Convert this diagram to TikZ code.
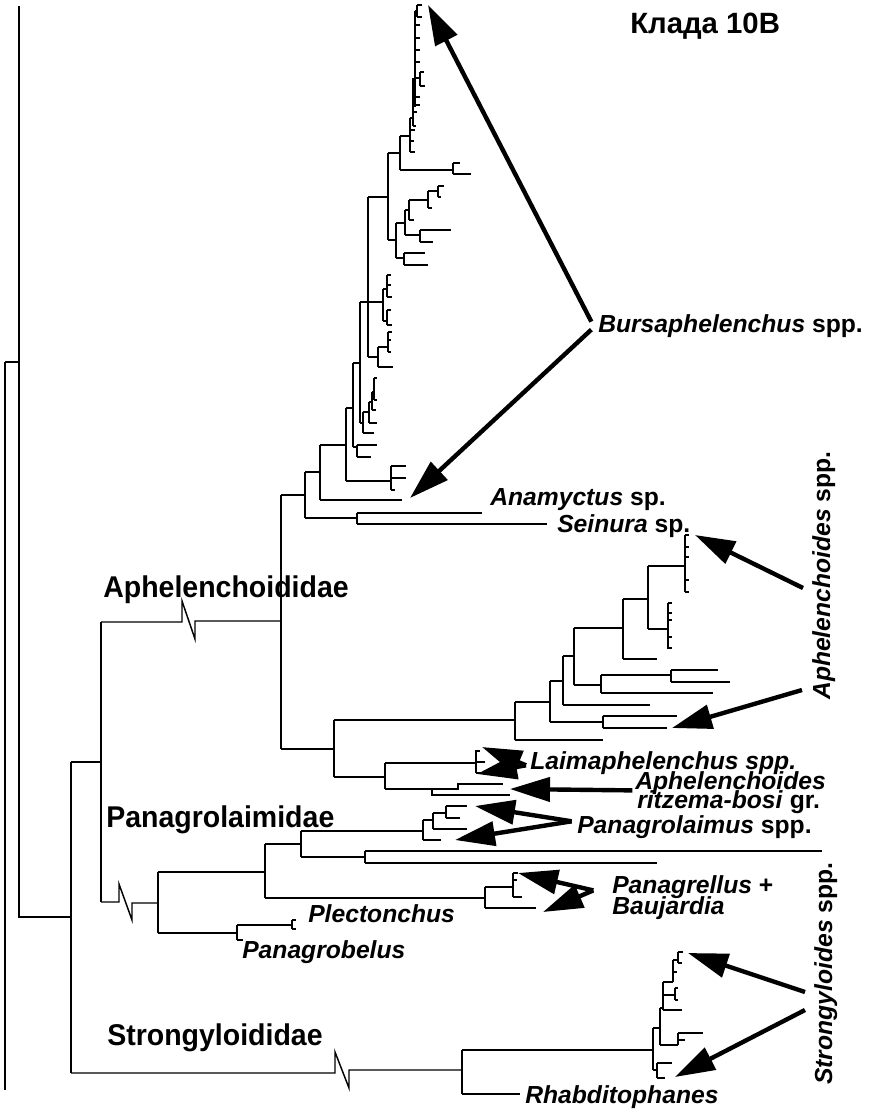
\documentclass[tikz,border=0pt]{standalone}
\usepackage{fontspec}
\setmainfont{Liberation Sans}
\newfontfamily\famfont[FakeStretch=0.95]{Liberation Sans}
\usetikzlibrary{arrows.meta}

\begin{document}
\begin{tikzpicture}[x=0.75pt,y=-0.75pt,
  tree/.style={line width=1.1pt},
  arr/.style={line width=3.3pt,-{Triangle[length=30pt,width=18pt]}},
  sp/.style={font=\fontsize{18.5}{18.5}\selectfont\bfseries\itshape,inner sep=0pt,anchor=base west},
  fam/.style={font=\famfont\fontsize{22.5}{22.5}\selectfont\bfseries,inner sep=0pt,anchor=base west}]
  \useasboundingbox[fill=white] (0,0) rectangle (875,1111);

  % root and backbone
  \draw[tree] (19,6) -- (19,917) -- (71,917);
  \draw[tree] (5,362) -- (19,362);
  \draw[tree] (5,362) -- (5,1090);
  \draw[tree] (71,762) -- (71,1073);
  \draw[tree] (71,762) -- (101,762);
  \draw[tree] (101,622) -- (101,902);
  \draw[tree] (101,622) -- (182,622) -- (182,601) -- (195,639) -- (195,621) -- (281,621);
  \draw[tree] (101,902) -- (119,902) -- (119,884) -- (132,920) -- (132,903) -- (158,903);
  \draw[tree] (71,1073) -- (335,1073) -- (335,1052) -- (349,1088) -- (349,1070) -- (462,1070);

  % Aphelenchoididae
  \draw[tree] (281,495) -- (281,749);
  \draw[tree] (281,495) -- (305,495);
  \draw[tree] (305,472) -- (305,518);
  \draw[tree] (305,518) -- (357,518) (357,513) -- (357,524);
  \draw[tree] (357,513) -- (482,513) (357,524) -- (547,524);
  \draw[tree] (305,472) -- (320,472) (320,445) -- (320,500) (320,500) -- (402,500);
  \draw[tree] (320,445) -- (346,445) (346,408) -- (346,481) (346,481) -- (391,481);
  \draw[tree] (391,466) -- (391,490) (391,466) -- (406,466) (391,478) -- (406,478) (391,490) -- (395,490);
  \draw[tree] (346,408) -- (353,408) (353,363) -- (353,447) (353,447) -- (357,447);
  \draw[tree] (357,445) -- (357,457) (357,445) -- (377,445) (357,457) -- (371,457);
  \draw[tree] (353,363) -- (360,363) (360,302) -- (360,423) (360,423) -- (363,423);
  \draw[tree] (363,412) -- (363,433) (363,433) -- (374,433) (363,412) -- (369,412);
  \draw[tree] (369,402) -- (369,423) (369,423) -- (377,423) (369,402) -- (372,402);
  \draw[tree] (372,392) -- (372,410) (372,410) -- (376,410) (372,392) -- (374,392);
  \draw[tree] (374,378) -- (374,400) (374,378) -- (377,378) (374,400) -- (377,400);
  \draw[tree] (360,302) -- (368,302) (368,197) -- (368,357) (368,302) -- (383,302);
  \draw[tree] (383,289) -- (383,321) (383,289) -- (387,289) (387,275) -- (387,297);
  \draw[tree] (387,275) -- (391,275) (387,285) -- (391,285) (387,297) -- (392,297);
  \draw[tree] (383,321) -- (387,321) (387,310) -- (387,325) (387,310) -- (391,310) (387,325) -- (392,325);
  \draw[tree] (368,357) -- (378,357) (378,347) -- (378,367) (378,367) -- (393,367) (378,347) -- (388,347);
  \draw[tree] (388,332) -- (388,352) (388,332) -- (392,332) (388,340) -- (391,340) (388,352) -- (391,352);
  \draw[tree] (368,197) -- (388,197) (388,153) -- (388,240);
  \draw[tree] (388,153) -- (400,153) (400,136) -- (400,170) (400,170) -- (453,170);
  \draw[tree] (453,163) -- (453,174) (453,163) -- (460,163) (453,174) -- (471,174);
  \draw[tree] (400,136) -- (410,136) (410,118) -- (410,152);
  \draw[tree] (410,130) -- (415,130) (410,141) -- (414,141) (410,152) -- (415,152);
  \draw[tree] (410,118) -- (413,118) (413,78) -- (413,126) (413,126) -- (416,126);
  \draw[tree] (413,92) -- (415,92) (415,11) -- (415,107);
  \draw[tree] (415,11) -- (417,11) (417,5) -- (417,17) (417,5) -- (422,5) (417,17) -- (422,17);
  \foreach \ty in {25,38,50,62,97,105} \draw[tree] (415,\ty) -- (420,\ty);
  \draw[tree] (415,78) -- (420,78) (420,72) -- (420,86) (420,72) -- (424,72) (420,86) -- (425,86);
  \draw[tree] (413,112) -- (417,112);
  \draw[tree] (388,240) -- (396,240) (396,223) -- (396,258);
  \draw[tree] (396,223) -- (405,223) (405,210) -- (405,235) (405,210) -- (409,210);
  \draw[tree] (409,200) -- (409,220) (409,200) -- (428,200) (409,220) -- (414,220);
  \draw[tree] (428,191) -- (428,208) (428,191) -- (438,191) (428,208) -- (432,208);
  \draw[tree] (438,186) -- (438,197) (438,186) -- (444,186) (438,197) -- (441,197);
  \draw[tree] (405,235) -- (420,235) (420,230) -- (420,242) (420,230) -- (451,230) (420,242) -- (433,242);
  \draw[tree] (396,258) -- (404,258) (404,253) -- (404,265) (404,253) -- (425,253) (404,265) -- (428,265);

  % Aphelenchoides clade
  \draw[tree] (281,749) -- (334,749) (334,720) -- (334,777);
  \draw[tree] (334,720) -- (515,720) (515,702) -- (515,740) (515,740) -- (603,740);
  \draw[tree] (515,702) -- (550,702) (550,681) -- (550,722) (550,722) -- (603,722);
  \draw[tree] (603,716) -- (603,728) (603,716) -- (677,716) (603,728) -- (667,728);
  \draw[tree] (550,681) -- (563,681) (563,656) -- (563,705) (563,705) -- (650,705);
  \draw[tree] (563,656) -- (574,656) (574,628) -- (574,685) (574,685) -- (601,685);
  \draw[tree] (601,675) -- (601,693) (601,693) -- (713,693) (601,675) -- (671,675);
  \draw[tree] (671,670) -- (671,682) (671,670) -- (718,670) (671,682) -- (730,682);
  \draw[tree] (574,628) -- (623,628) (623,599) -- (623,659) (623,659) -- (657,659);
  \draw[tree] (623,599) -- (648,599) (648,566) -- (648,629);
  \draw[tree] (648,566) -- (685,566) (685,535) -- (685,592);
  \foreach \ty in {535,547,557,580,592} \draw[tree] (685,\ty) -- (689,\ty);
  \draw[tree] (648,629) -- (668,629) (668,603) -- (668,649);
  \foreach \ty in {603,613,620,637,648} \draw[tree] (668,\ty) -- (672,\ty);

  % Laimaphelenchus and ritzema-bosi
  \draw[tree] (334,777) -- (385,777) (385,763) -- (385,789);
  \draw[tree] (385,763) -- (476,763) (476,750) -- (476,773);
  \draw[tree] (476,751) -- (480,751) (476,762) -- (485,762) (476,773) -- (481,773);
  \draw[tree] (385,789) -- (458,789) -- (458,784) -- (503,784);
  \draw[tree] (432,789) -- (432,795) -- (510,795);

  % Panagrolaimidae
  \draw[tree] (158,872) -- (158,933) (158,872) -- (265,872) (265,844) -- (265,898);
  \draw[tree] (265,844) -- (301,844) (301,831) -- (301,857);
  \draw[tree] (301,831) -- (423,831) (423,820) -- (423,840) (423,840) -- (441,840);
  \draw[tree] (423,820) -- (433,820) (433,813) -- (433,829) (433,829) -- (467,829);
  \draw[tree] (433,813) -- (446,813) (446,806) -- (446,818) (446,806) -- (467,806) (446,818) -- (460,818);
  \draw[tree] (301,857) -- (365,857) (365,851) -- (365,863) (365,851) -- (822,851) (365,863) -- (657,863);
  \draw[tree] (265,898) -- (485,898) (485,887) -- (485,908) (485,908) -- (536,908);
  \draw[tree] (485,887) -- (513,887) (513,873) -- (513,897);
  \draw[tree] (513,873) -- (518,873) (513,880) -- (517,880) (513,897) -- (522,897);
  \draw[tree] (158,933) -- (237,933) (237,925) -- (237,940) (237,940) -- (243,940);
  \draw[tree] (237,925) -- (292,925) (292,920) -- (292,929) (292,920) -- (296,920) (292,929) -- (296,929);

  % Strongyloididae
  \draw[tree] (462,1050) -- (462,1094) (462,1094) -- (520,1094) (462,1050) -- (653,1050);
  \draw[tree] (653,1028) -- (653,1070) (653,1070) -- (657,1070);
  \draw[tree] (657,1063) -- (657,1078) (657,1063) -- (672,1063) (657,1078) -- (665,1078);
  \draw[tree] (653,1028) -- (660,1028) (660,1008) -- (660,1045);
  \draw[tree] (660,1045) -- (678,1045) (678,1033) -- (678,1045) (678,1033) -- (703,1033);
  \draw[tree] (678,1040) -- (685,1040);
  \draw[tree] (660,1008) -- (663,1008) (663,982) -- (663,1010) (663,1010) -- (682,1010);
  \draw[tree] (663,995) -- (675,995) (675,988) -- (675,1000) (675,988) -- (678,988) (675,1000) -- (678,1000);
  \draw[tree] (663,982) -- (673,982) (673,960) -- (673,982) (673,972) -- (677,972);
  \draw[tree] (673,960) -- (678,960) (678,952) -- (678,963) (678,952) -- (683,952) (678,963) -- (682,963);

  % labels
  \node[font=\fontsize{22}{22}\selectfont\bfseries,inner sep=0pt,anchor=base west] (title) at (630,33) {Клада 10В};
  \node[fam] (aphfam) at (103,597) {Aphelenchoididae};
  \node[fam] (panfam) at (106,827) {Panagrolaimidae};
  \node[fam] (strfam) at (107,1045) {Strongyloididae};
  \node[sp] (burs) at (598,332) {Bursaphelenchus \textup{spp.}};
  \node[sp] (anam) at (490,505) {Anamyctus \textup{sp.}};
  \node[sp] (sein) at (557,532) {Seinura \textup{sp.}};
  \node[sp,rotate=90] (aphspp) at (830,700) {Aphelenchoides \textup{spp.}};
  \node[sp] (laim) at (530,769) {Laimaphelenchus spp.};
  \node[sp] (ritzA) at (635,789) {Aphelenchoides};
  \node[sp] (ritzB) at (637,808) {ritzema-bosi \textup{gr.}};
  \node[sp] (panag) at (577,833) {Panagrolaimus \textup{spp.}};
  \node[sp] (pgrA) at (612,893) {Panagrellus \textup{+}};
  \node[sp] (pgrB) at (612,914) {Baujardia};
  \node[sp] (plect) at (308,922) {Plectonchus};
  \node[sp] (pgrob) at (242,958) {Panagrobelus};
  \node[sp] (rhab) at (525,1103) {Rhabditophanes};
  \node[sp,rotate=90] (strong) at (832,1085) {Strongyloides \textup{spp.}};

  % arrow ends
  \coordinate (bursTipA) at (428,5);
  \coordinate (bursTipB) at (410,498);
  \coordinate (aphTailA) at (803,588);
  \coordinate (aphTipA) at (695,535);
  \coordinate (aphTailB) at (802,690);
  \coordinate (aphTipB) at (672,728);
  \coordinate (laimTipA) at (482,747);
  \coordinate (laimTipB) at (477,774);
  \coordinate (ritzTip) at (510,789);
  \coordinate (panagTipA) at (475,806);
  \coordinate (panagTipB) at (455,840);
  \coordinate (pgrTipA) at (518,873);
  \coordinate (pgrTipB) at (543,912);
  \coordinate (strTailA) at (805,992);
  \coordinate (strTipA) at (688,953);
  \coordinate (strTailB) at (805,1010);
  \coordinate (strTipB) at (675,1077);

  \draw[arr] ([xshift=-5pt,yshift=3pt]burs.west) -- (bursTipA);
  \draw[arr] ([xshift=-5pt,yshift=-3pt]burs.west) -- (bursTipB);
  \draw[arr] (aphTailA) -- (aphTipA);
  \draw[arr] (aphTailB) -- (aphTipB);
  \draw[arr] ([xshift=-3pt,yshift=-2pt]laim.west) -- (laimTipA);
  \draw[arr] ([xshift=-3pt,yshift=-2pt]laim.west) -- (laimTipB);
  \draw[arr] ([xshift=-2pt,yshift=3pt]ritzA.south west) -- (ritzTip);
  \draw[arr] ([xshift=-4pt,yshift=4pt]panag.west) -- (panagTipA);
  \draw[arr] ([xshift=-4pt,yshift=4pt]panag.west) -- (panagTipB);
  \draw[arr] ([xshift=-14pt,yshift=6pt]pgrA.south west) -- (pgrTipA);
  \draw[arr] ([xshift=-14pt,yshift=6pt]pgrA.south west) -- (pgrTipB);
  \draw[arr] (strTailA) -- (strTipA);
  \draw[arr] (strTailB) -- (strTipB);
\end{tikzpicture}
\end{document}
